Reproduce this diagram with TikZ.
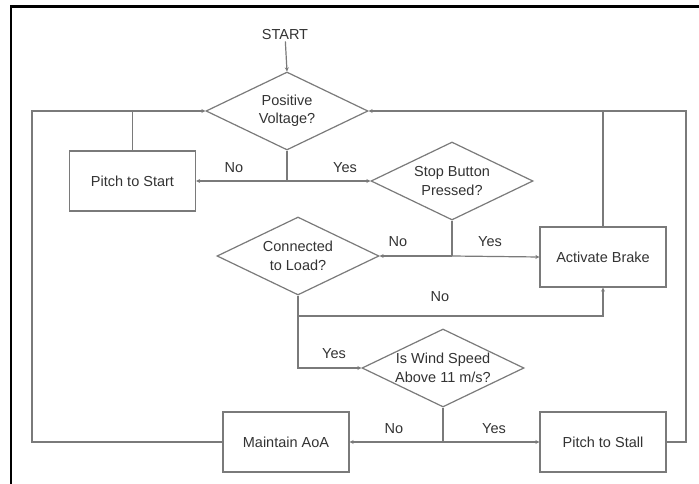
\documentclass[tikz,border=0pt]{standalone}
\usepackage{fontspec}
\setmainfont{Liberation Sans}
\usetikzlibrary{shapes.geometric,arrows.meta}
\definecolor{lnc}{HTML}{7A7A7A}
\definecolor{txc}{HTML}{333333}
\begin{document}
\begin{tikzpicture}[x=1pt,y=-1pt,
  font=\fontsize{14.5}{18.5}\selectfont,
  every node/.style={text=txc},
  ln/.style={draw=lnc,line width=1.2pt},
  arr/.style={ln,-{Stealth[length=4pt,width=4pt]}},
  procbox/.style={draw=lnc,line width=1.2pt,rectangle,minimum width=126pt,minimum height=60pt,inner sep=0pt},
  decis/.style={draw=lnc,line width=1.2pt,diamond,minimum width=162pt,minimum height=78pt,inner sep=0pt},
  lbl/.style={inner sep=1pt}]
\useasboundingbox (0,0) rectangle (699,484);
\fill[white] (0,0) rectangle (699,484);
\draw[line width=2.6pt,black] (11,484) -- (11,6.5) -- (699,6.5);

% nodes
\node[lbl] (start) at (285,35) {START};
\node[decis,label={[align=center,text=txc]center:Positive\\Voltage?}] (d1) at (287,111) {};
\node[procbox] (ps) at (132.5,181) {Pitch to Start};
\node[decis,label={[align=center,text=txc]center:Stop Button\\Pressed?}] (d2) at (452,181) {};
\node[decis,label={[align=center,text=txc]center:Connected\\to Load?}] (d3) at (298,256) {};
\node[procbox] (ab) at (603,257) {Activate Brake};
\node[decis,label={[align=center,text=txc]center:Is Wind Speed\\Above 11 m/s?}] (d4) at (443,368) {};
\node[procbox] (ma) at (286,442) {Maintain AoA};
\node[procbox] (pst) at (603,442) {Pitch to Stall};

% junction coordinates
\coordinate (j1) at (287,181);
\coordinate (j2) at (452,256);
\coordinate (j3) at (298,316);
\coordinate (j4) at (443,442);
\coordinate (lt) at (32,111);
\coordinate (rt) at (686,111);

% connectors
\draw[arr] (start) -- (d1.north);
\draw[ln] (d1.south) -- (j1);
\draw[arr] (j1) -- (ps.east);
\draw[arr] (j1) -- (d2.west);
\draw[arr] (ma.west) -| (lt) -- (d1.west);
\draw[ln] (ps.north) -- (ps.north |- d1.west);
\draw[arr] (pst.east) -| (rt) -- (d1.east);
\draw[ln] (ab.north) -- (ab.north |- d1.east);
\draw[ln] (d2.south) -- (j2);
\draw[arr] (j2) -- (d3.east);
\draw[arr] (j2) -- (ab.west);
\draw[ln] (d3.south) -- (j3);
\draw[arr] (j3) -| (ab.south);
\draw[arr] (j3) |- (d4.west);
\draw[ln] (d4.south) -- (j4);
\draw[arr] (j4) -- (ma.east);
\draw[arr] (j4) -- (pst.west);

% labels
\node[lbl] (l1) at (234,168) {No};
\node[lbl] (l2) at (345,168) {Yes};
\node[lbl] (l3) at (398,242) {No};
\node[lbl] (l4) at (490,242) {Yes};
\node[lbl] (l5) at (440,297) {No};
\node[lbl] (l6) at (334,354) {Yes};
\node[lbl] (l7) at (394,429) {No};
\node[lbl] (l8) at (494,429) {Yes};
\end{tikzpicture}
\end{document}
